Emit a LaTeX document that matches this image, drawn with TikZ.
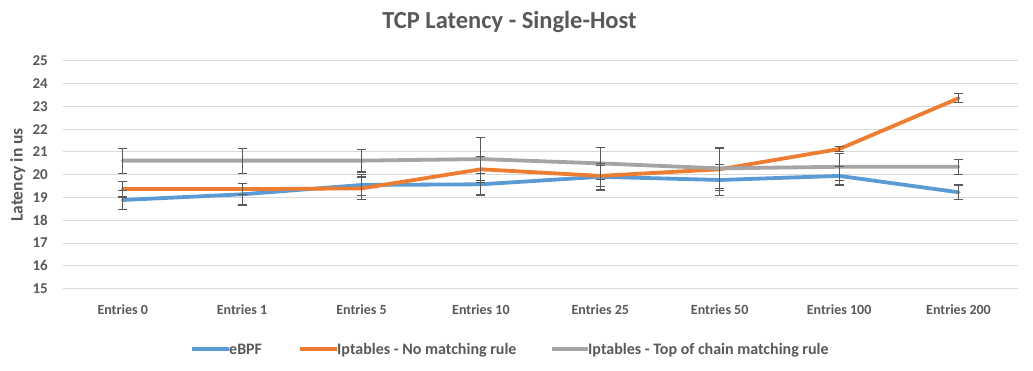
\documentclass[tikz,border=0pt]{standalone}
\usepackage{fontspec}
\setmainfont{Carlito}
\definecolor{txt}{HTML}{595959}
\definecolor{grid}{HTML}{D9D9D9}
\definecolor{sblue}{HTML}{5B9BD5}
\definecolor{sorange}{HTML}{ED7D31}
\definecolor{sgray}{HTML}{A5A5A5}
\definecolor{errc}{HTML}{595959}
\tikzset{
  gridline/.style={draw=grid, line width=1pt},
  series/.style={line width=3.8pt, line join=round, line cap=round},
  errbar/.style={draw=errc, line width=1.1pt},
  ticklab/.style={font=\bfseries\fontsize{15}{17}\selectfont, text=txt, inner sep=0pt},
  catlab/.style={font=\bfseries\fontsize{14}{16}\selectfont, text=txt, inner sep=0pt, anchor=base},
  legtext/.style={font=\bfseries\fontsize{16}{18}\selectfont, text=txt, inner sep=0pt, anchor=base west},
  legline/.style={line width=3.8pt},
}
\begin{document}
\begin{tikzpicture}[x=1pt,y=1pt]
\useasboundingbox[fill=white] (0,0) rectangle (1033,370);

% title and axis title
\node[font=\bfseries\fontsize{24.5}{28}\selectfont, text=txt, inner sep=0pt, anchor=base] (title) at (509.5,341) {TCP Latency - Single-Host};
\node[font=\bfseries\fontsize{17.5}{20}\selectfont, text=txt, inner sep=0pt, rotate=90, anchor=base] (ytitle) at (22.5,195) {Latency in us};

% plot area: category i at x=i, value v at y=v
\begin{scope}[shift={(122.7pt,-259.75pt)}, x=119.4pt, y=22.75pt]
  \foreach \v in {15,...,25} {
    \coordinate (gl\v) at (-0.5,\v);
    \coordinate (gr\v) at (7.5,\v);
    \draw[gridline] (gl\v) -- (gr\v);
    \node[ticklab, anchor=east] (tick\v) at ([xshift=-15pt]gl\v) {\v};
  }
  \foreach \lab [count=\i from 0] in {Entries 0,Entries 1,Entries 5,Entries 10,Entries 25,Entries 50,Entries 100,Entries 200}
    \node[catlab] (cat\i) at (\i,13.84) {\lab};

  % data points
  \foreach \v [count=\i from 0] in {18.89,19.14,19.55,19.58,19.91,19.77,19.95,19.23}
    \coordinate (b\i) at (\i,\v);
  \foreach \v [count=\i from 0] in {19.37,19.37,19.40,20.24,19.95,20.24,21.13,23.36}
    \coordinate (o\i) at (\i,\v);
  \foreach \v [count=\i from 0] in {20.62,20.62,20.62,20.69,20.50,20.28,20.35,20.35}
    \coordinate (g\i) at (\i,\v);

  % series lines
  \draw[series, sblue] (b0) \foreach \i in {1,...,7} { -- (b\i) };
  \draw[series, sorange] (o0) \foreach \i in {1,...,7} { -- (o\i) };
  \draw[series, sgray] (g0) \foreach \i in {1,...,7} { -- (g\i) };

  % error bars (value/half-width)
  \foreach \s/\list in {b/{18.89/0.40,19.14/0.47,19.55/0.45,19.58/0.47,19.91/0.58,19.77/0.70,19.95/0.40,19.23/0.32},
                       o/{19.37/0.35,19.37/0.25,19.40/0.50,20.24/0.58,19.95/0.45,20.24/0.95,21.13/0.10,23.36/0.20},
                       g/{20.62/0.55,20.62/0.55,20.62/0.50,20.69/0.95,20.50/0.69,20.28/0.88,20.35/0.60,20.35/0.33}} {
    \foreach \v/\e [count=\i from 0] in \list {
      \coordinate (\s hi\i) at (\i,\v+\e);
      \coordinate (\s lo\i) at (\i,\v-\e);
      \draw[errbar] (\s hi\i) -- (\s lo\i);
      \draw[errbar] ([xshift=-4.5pt]\s hi\i) -- ([xshift=4.5pt]\s hi\i);
      \draw[errbar] ([xshift=-4.5pt]\s lo\i) -- ([xshift=4.5pt]\s lo\i);
    }
  }
\end{scope}

% legend
\coordinate (l1a) at (192,21); \coordinate (l1b) at (229,21);
\coordinate (l2a) at (300,21); \coordinate (l2b) at (337,21);
\coordinate (l3a) at (552,21); \coordinate (l3b) at (588,21);
\draw[legline, sblue] (l1a) -- (l1b);
\draw[legline, sorange] (l2a) -- (l2b);
\draw[legline, sgray] (l3a) -- (l3b);
\node[legtext] (leg1) at ([yshift=-5pt]l1b) {eBPF};
\node[legtext] (leg2) at ([yshift=-5pt]l2b) {Iptables - No matching rule};
\node[legtext] (leg3) at ([yshift=-5pt]l3b) {Iptables - Top of chain matching rule};
\end{tikzpicture}
\end{document}
